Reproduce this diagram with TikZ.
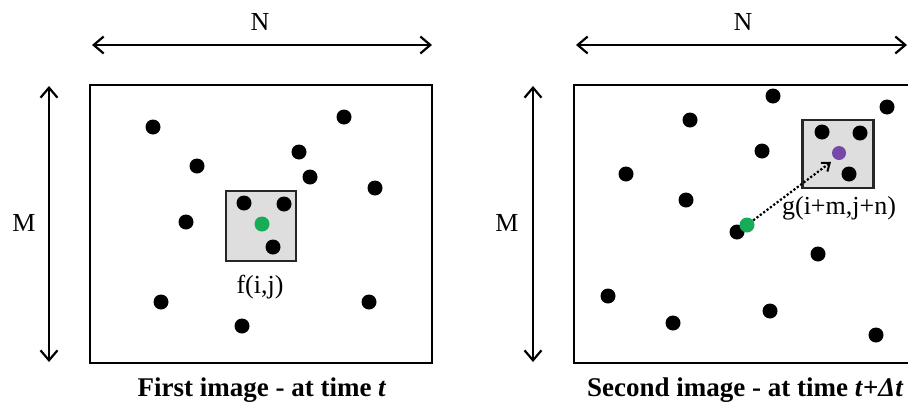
\documentclass[tikz,border=0pt]{standalone}
\usepackage{fontspec}
\setmainfont{Liberation Serif}
\usetikzlibrary{arrows.meta}
\definecolor{dotgreen}{RGB}{22,172,88}
\definecolor{dotpurple}{RGB}{118,72,168}
\definecolor{winfill}{RGB}{222,222,222}
\tikzset{
  dot/.style={circle,fill=black,inner sep=0pt,minimum size=15pt},
  gdot/.style={circle,fill=dotgreen,inner sep=0pt,minimum size=15pt},
  pdot/.style={circle,fill=dotpurple,inner sep=0pt,minimum size=14pt},
  frame/.style={draw=black,line width=2.8pt},
  win/.style={draw=black!85,fill=winfill,line width=2.8pt},
  dimarrow/.style={line width=2.8pt,{Straight Barb[length=10pt,width=17pt,line width=2.2pt]}-{Straight Barb[length=10pt,width=17pt,line width=2.2pt]}},
  lbl/.style={font=\fontsize{26}{29}\selectfont,inner sep=0pt},
  captext/.style={font=\fontsize{27}{30}\selectfont\bfseries,inner sep=0pt}
}
\begin{document}
\begin{tikzpicture}[x=1pt,y=-1pt]
\clip (0,0) rectangle (908,405);
\fill[white] (0,0) rectangle (908,405);
% ---------- left panel ----------
\coordinate (lNa) at (92,45); \coordinate (lNb) at (432,45);
\draw[dimarrow] (lNa) -- (lNb);
\node[lbl] (lN) at (260,22) {N};
\coordinate (lMa) at (49,86); \coordinate (lMb) at (49,362);
\draw[dimarrow] (lMa) -- (lMb);
\node[lbl] (lM) at (24,223) {M};
\draw[frame] (90,85) rectangle (432,363);
\node[win,minimum width=70pt,minimum height=70pt,inner sep=0pt] (lwin) at (261,226) {};
\node[dot] (a1) at (153,127) {};
\node[dot] (a2) at (344,117) {};
\node[dot] (a3) at (197,166) {};
\node[dot] (a4) at (299,152) {};
\node[dot] (a5) at (310,177) {};
\node[dot] (a6) at (375,188) {};
\node[dot] (a7) at (186,222) {};
\node[dot] (a8) at (161,302) {};
\node[dot] (a9) at (369,302) {};
\node[dot] (a10) at (242,326) {};
\node[dot] (a11) at (244,203) {};
\node[dot] (a12) at (284,204) {};
\node[dot] (a13) at (273,247) {};
\node[gdot] (lg) at (262,224) {};
\node[lbl] (lf) at (260,287) {f(i,j)};
\node[captext] (lcap) at (262,390) {First image - at time \textit{t}};
% ---------- right panel ----------
\coordinate (rNa) at (576,45); \coordinate (rNb) at (907,45);
\draw[dimarrow] (rNa) -- (rNb);
\node[lbl] (rN) at (743,22) {N};
\coordinate (rMa) at (533,86); \coordinate (rMb) at (533,362);
\draw[dimarrow] (rMa) -- (rMb);
\node[lbl] (rM) at (507,223) {M};
\draw[frame] (574,85) rectangle (930,363);
\node[win,minimum width=71pt,minimum height=68pt,inner sep=0pt] (rwin) at (838,154) {};
\node[dot] (b1) at (773,96) {};
\node[dot] (b2) at (887,107) {};
\node[dot] (b3) at (690,120) {};
\node[dot] (b4) at (762,151) {};
\node[dot] (b5) at (626,174) {};
\node[dot] (b6) at (686,200) {};
\node[dot] (b7) at (737,232) {};
\node[dot] (b8) at (818,254) {};
\node[dot] (b9) at (608,296) {};
\node[dot] (b10) at (770,311) {};
\node[dot] (b11) at (673,323) {};
\node[dot] (b12) at (876,335) {};
\node[dot] (b13) at (822,132) {};
\node[dot] (b14) at (860,133) {};
\node[dot] (b15) at (849,174) {};
\node[gdot] (rg) at (747,225) {};
\node[pdot] (rp) at (839,153) {};
\coordinate (tip) at (831,162);
\draw[line width=2.2pt,dotted,-{Straight Barb[length=7pt,width=11pt,line width=2pt]}] (rg) -- (tip);
\node[lbl] (rglab) at (839,208) {g(i+m,j+n)};
\node[captext,anchor=west] (rcap) at (587,390) {Second image - at time \textit{t}+\textit{Δt}};
\end{tikzpicture}
\end{document}
